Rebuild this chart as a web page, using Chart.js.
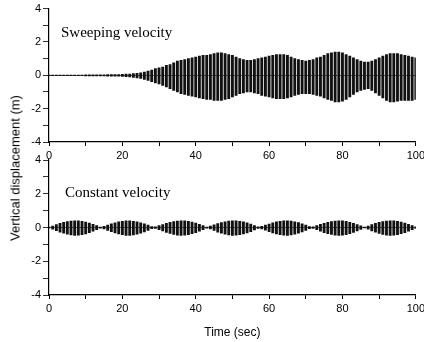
<!DOCTYPE html>
<html>
<head>
<meta charset="utf-8">
<script src="https://cdn.jsdelivr.net/npm/chart.js@4/dist/chart.umd.min.js"></script>
<style>
  html, body { margin: 0; padding: 0; background: #fff; }
  #wrap { position: relative; width: 424px; height: 342px; overflow: hidden; }
  canvas { position: absolute; left: 0; }
  #topChart { top: 0; }
  #bottomChart { top: 150px; }
  #yTitle {
    position: absolute; left: 15px; top: 168px;
    transform: translate(-50%, -50%) rotate(-90deg);
    font: 13px "Liberation Sans", Arial, sans-serif; color: #000; white-space: nowrap;
  }
</style>
</head>
<body>
<div id="wrap">
  <canvas id="topChart" width="428" height="165"></canvas>
  <canvas id="bottomChart" width="428" height="192"></canvas>
  <div id="yTitle">Vertical displacement (m)</div>
</div>
<script>
// sampling grid (seconds) and tick labels
const timeSec = Array.from({ length: 101 }, (_, i) => i);
const xTickLabels = [0, 20, 40, 60, 80, 100];
const yTickLabels = [-4, -2, 0, 2, 4];

// sweeping velocity: upper / lower envelope of the response, read per second
const sweepUpper = [
  0.02, 0.02, 0.02, 0.02, 0.02, 0.02, 0.02, 0.02, 0.02, 0.02,
  0.03, 0.03, 0.03, 0.03, 0.03, 0.03, 0.05, 0.05, 0.05, 0.05,
  0.06, 0.07, 0.08, 0.1, 0.12, 0.15, 0.2, 0.25, 0.32, 0.4,
  0.45, 0.5, 0.6, 0.65, 0.75, 0.85, 0.9, 0.95, 1.0, 1.05,
  1.1, 1.15, 1.2, 1.2, 1.25, 1.3, 1.35, 1.35, 1.3, 1.25,
  1.2, 1.1, 1.0, 0.95, 0.9, 0.9, 0.95, 1.0, 1.05, 1.1,
  1.15, 1.2, 1.25, 1.25, 1.25, 1.2, 1.1, 1.0, 0.95, 0.9,
  0.85, 0.9, 0.95, 1.05, 1.1, 1.2, 1.3, 1.35, 1.4, 1.4,
  1.35, 1.25, 1.15, 1.05, 0.95, 0.85, 0.8, 0.8, 0.85, 0.95,
  1.05, 1.15, 1.25, 1.3, 1.3, 1.3, 1.25, 1.2, 1.15, 1.1,
  1.05
];
const sweepLower = [
  -0.02, -0.02, -0.02, -0.02, -0.02, -0.02, -0.02, -0.02, -0.02, -0.02,
  -0.03, -0.03, -0.03, -0.03, -0.03, -0.03, -0.05, -0.05, -0.05, -0.05,
  -0.07, -0.08, -0.1, -0.12, -0.15, -0.18, -0.24, -0.3, -0.38, -0.45,
  -0.52, -0.6, -0.7, -0.8, -0.9, -1.0, -1.1, -1.15, -1.2, -1.25,
  -1.3, -1.35, -1.4, -1.45, -1.45, -1.5, -1.5, -1.5, -1.45, -1.4,
  -1.3, -1.2, -1.1, -1.05, -1.0, -1.0, -1.05, -1.1, -1.2, -1.25,
  -1.3, -1.35, -1.4, -1.4, -1.4, -1.35, -1.3, -1.2, -1.15, -1.1,
  -1.1, -1.1, -1.15, -1.2, -1.25, -1.35, -1.45, -1.5, -1.6, -1.6,
  -1.55, -1.45, -1.3, -1.15, -1.0, -0.9, -0.85, -0.8, -0.9, -1.05,
  -1.2, -1.35, -1.5, -1.6, -1.6, -1.55, -1.5, -1.5, -1.5, -1.5,
  -1.45
];

// constant velocity: upper / lower envelope, read per second
const constUpper = [
  0.02, 0.09, 0.17, 0.24, 0.3, 0.35, 0.38, 0.4, 0.39, 0.36,
  0.32, 0.26, 0.19, 0.11, 0.03, 0.07, 0.15, 0.22, 0.28, 0.33,
  0.37, 0.4, 0.4, 0.37, 0.33, 0.28, 0.22, 0.14, 0.06, 0.04,
  0.11, 0.18, 0.25, 0.3, 0.35, 0.38, 0.4, 0.39, 0.36, 0.32,
  0.26, 0.19, 0.11, 0.03, 0.08, 0.16, 0.23, 0.29, 0.34, 0.38,
  0.4, 0.39, 0.37, 0.33, 0.27, 0.2, 0.12, 0.04, 0.07, 0.14,
  0.21, 0.28, 0.33, 0.37, 0.4, 0.4, 0.38, 0.34, 0.29, 0.22,
  0.14, 0.06, 0.04, 0.11, 0.19, 0.25, 0.31, 0.35, 0.38, 0.4,
  0.39, 0.36, 0.31, 0.25, 0.18, 0.1, 0.02, 0.09, 0.17, 0.24,
  0.3, 0.35, 0.38, 0.4, 0.39, 0.36, 0.32, 0.26, 0.19, 0.11,
  0.04
];
const constLower = [
  -0.02, -0.1, -0.19, -0.27, -0.34, -0.4, -0.44, -0.47, -0.46, -0.43,
  -0.38, -0.31, -0.22, -0.13, -0.04, -0.08, -0.17, -0.25, -0.32, -0.38,
  -0.43, -0.47, -0.47, -0.44, -0.39, -0.33, -0.26, -0.17, -0.07, -0.05,
  -0.13, -0.21, -0.29, -0.35, -0.41, -0.45, -0.47, -0.46, -0.42, -0.37,
  -0.3, -0.22, -0.13, -0.04, -0.09, -0.18, -0.27, -0.34, -0.4, -0.44,
  -0.47, -0.46, -0.43, -0.38, -0.32, -0.24, -0.14, -0.05, -0.08, -0.16,
  -0.25, -0.32, -0.38, -0.43, -0.46, -0.47, -0.44, -0.4, -0.34, -0.26,
  -0.17, -0.07, -0.05, -0.13, -0.22, -0.3, -0.36, -0.41, -0.45, -0.47,
  -0.46, -0.42, -0.36, -0.29, -0.21, -0.12, -0.03, -0.1, -0.2, -0.28,
  -0.35, -0.41, -0.45, -0.47, -0.46, -0.42, -0.37, -0.3, -0.22, -0.13,
  -0.05
];

const tickFont = { family: "'Liberation Sans', Arial, sans-serif", size: 11 };

// draws the panel caption inside the plot area
const captionPlugin = {
  id: "caption",
  afterDraw(chart, args, opts) {
    const { ctx, chartArea } = chart;
    ctx.save();
    ctx.font = "15px 'Liberation Serif', 'Times New Roman', serif";
    ctx.fillStyle = "#000";
    ctx.textBaseline = "alphabetic";
    ctx.fillText(opts.text, chartArea.left + opts.dx, chartArea.top + opts.dy);
    ctx.restore();
  },
};

function makePanel(canvasId, upper, lower, cfg) {
  const bars = timeSec.map((t, i) => ({ x: t, y: [lower[i], upper[i]] }));
  return new Chart(document.getElementById(canvasId), {
    type: "bar",
    data: {
      datasets: [
        {
          data: bars,
          backgroundColor: "#111",
          borderWidth: 0,
          barThickness: 2.2,
        },
      ],
    },
    options: {
      responsive: false,
      animation: false,
      layout: { padding: cfg.padding },
      plugins: {
        legend: { display: false },
        tooltip: { enabled: false },
        caption: { text: cfg.caption, dx: cfg.dx, dy: cfg.dy },
      },
      scales: {
        x: {
          type: "linear",
          min: 0,
          max: 100,
          offset: false,
          ticks: {
            stepSize: 10,
            autoSkip: false,
            maxRotation: 0,
            color: "#000",
            font: tickFont,
            padding: 3,
            callback: (v) => (xTickLabels.includes(v) ? v : ""),
          },
          grid: { offset: false, drawOnChartArea: false, tickLength: 4, tickColor: "#000" },
          border: { color: "#000", width: 1.2 },
          title: cfg.xTitle
            ? { display: true, text: cfg.xTitle, color: "#000", font: { family: "'Liberation Sans', Arial, sans-serif", size: 12 }, padding: 2 }
            : { display: false },
          afterFit: (s) => { s.height = cfg.xHeight; },
        },
        y: {
          min: -4,
          max: 4,
          ticks: {
            stepSize: 1,
            color: "#000",
            font: tickFont,
            padding: 2,
            callback: (v) => (yTickLabels.includes(v) ? v : ""),
          },
          grid: {
            drawOnChartArea: true,
            color: (c) => (c.tick && c.tick.value === 0 ? "#444" : "rgba(0,0,0,0)"),
            lineWidth: 0.8,
            tickLength: 6,
            tickColor: "#000",
          },
          border: { color: "#000", width: 1.2 },
          afterFit: (s) => { s.width = 49; },
        },
      },
    },
    plugins: [captionPlugin],
  });
}

makePanel("topChart", sweepUpper, sweepLower, {
  padding: { left: 0, right: 0, top: 8, bottom: 0 },
  xHeight: 23,
  caption: "Sweeping velocity",
  dx: 12,
  dy: 28,
});

makePanel("bottomChart", constUpper, constLower, {
  padding: { left: 0, right: 0, top: 10, bottom: 0 },
  xHeight: 47,
  xTitle: "Time (sec)",
  caption: "Constant velocity",
  dx: 16,
  dy: 37,
});
</script>
</body>
</html>
